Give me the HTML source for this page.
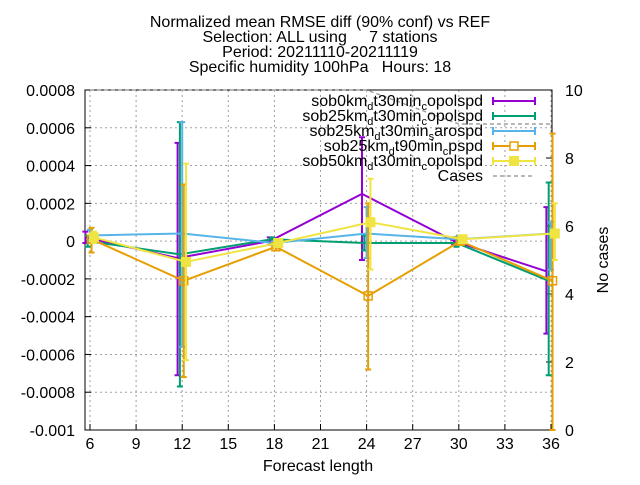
<!DOCTYPE html>
<html><head><meta charset="utf-8"><style>
body{margin:0;background:#fff;font-family:"Liberation Sans",sans-serif}
svg text{font-family:"Liberation Sans",sans-serif;font-size:16px;fill:#000;white-space:pre}
</style></head><body>
<svg id="c" width="640" height="480" xmlns="http://www.w3.org/2000/svg">
<g text-anchor="middle">
<text x="320" y="27" xml:space="preserve">Normalized mean RMSE diff (90% conf) vs REF</text>
<text x="320" y="42" xml:space="preserve">Selection: ALL using     7 stations</text>
<text x="320" y="57" xml:space="preserve">Period: 20211110-20211119</text>
<text x="320" y="72" xml:space="preserve">Specific humidity 100hPa   Hours: 18</text>
</g>
<g id="grid"></g>
<g id="axes"></g>
<g id="series"></g>
<g id="legend"></g>
<text x="318" y="471" text-anchor="middle">Forecast length</text>
<text transform="translate(608,260) rotate(-90)" text-anchor="middle">No cases</text>
</svg>
<script>
const xs=[6,12,18,24,30,36];
const names=["sob0km_dt30min_copolspd","sob25km_dt30min_copolspd","sob25km_dt30min_sarospd","sob25km_dt90min_cpspd","sob50km_dt30min_copolspd"];
const colors=["#9400d3","#009e73","#56b4e9","#e69f00","#f0e442"];
const v0=[0.00002,-0.00009,0.0,0.00025,0.0,-0.00016];
const v1=[0.0,-0.00007,0.00001,-0.00001,-0.00001,-0.00021];
const v2=[0.00003,0.00004,-0.00001,0.00004,0.00001,0.00004];
const v3=[0.00001,-0.00021,-0.00003,-0.00029,0.0,-0.00021];
const v4=[0.00002,-0.00011,-0.00001,0.0001,0.00001,0.00004];
const lo0=[-0.00001,-0.00071,-0.00002,-0.0001,-0.00002,-0.00049];
const hi0=[0.00005,0.00052,0.00002,0.00055,0.00002,0.00018];
const lo1=[-0.00003,-0.00077,-0.00001,-0.00005,-0.00003,-0.00071];
const hi1=[0.00003,0.00063,0.00002,0.00003,0.00002,0.00031];
const lo2=[0.0,-0.00056,-0.00002,-0.00009,-0.00001,-0.00015];
const hi2=[0.00006,0.00063,0.0,0.00018,0.00003,0.0001];
const lo3=[-0.00006,-0.00072,-0.00005,-0.00068,-0.00002,-0.001];
const hi3=[0.00007,0.0003,-0.00001,0.0002,0.00002,0.00057];
const lo4=[-0.00001,-0.00063,-0.00003,-0.00015,-0.00001,-0.0001];
const hi4=[0.00005,0.00041,0.00001,0.00033,0.00003,0.0002];
const cases=[10,10,10,10,9,9];
const yTicks=[0.0008,0.0006,0.0004,0.0002,0,-0.0002,-0.0004,-0.0006,-0.0008,-0.001];
const yLabels=["0.0008","0.0006","0.0004","0.0002","0","-0.0002","-0.0004","-0.0006","-0.0008","-0.001"];
const xTicks=[6,9,12,15,18,21,24,27,30,33,36];
const y2Ticks=[0,2,4,6,8,10];
const vals=[v0,v1,v2,v3,v4],los=[lo0,lo1,lo2,lo3,lo4],his=[hi0,hi1,hi2,hi3,hi4];
const L=85,R=552,T=90,B=430;
const X=v=>90+(v-6)*(461/30);
const Y=v=>T+(0.0008-v)/0.0018*(B-T);
const Y2=v=>B-v/10*(B-T);
const NS="http://www.w3.org/2000/svg";
function mk(p,t,a){const e=document.createElementNS(NS,t);for(const k in a)e.setAttribute(k,a[k]);p.appendChild(e);return e;}
const g=document.getElementById('grid'),ax=document.getElementById('axes'),se=document.getElementById('series'),lg=document.getElementById('legend');
yTicks.forEach((t,i)=>{const y=Y(t);
 const l=mk(g,'line',{x1:L,x2:R,y1:y,y2:y,stroke:'#a0a0a0','stroke-dasharray':'2,3','stroke-width':1});
 
 const tx=mk(ax,'text',{x:L-10,y:y+6,'text-anchor':'end'});tx.textContent=yLabels[i];
 
 mk(ax,'line',{x1:L,x2:L+6,y1:y,y2:y,stroke:'#000'});});
xTicks.forEach(t=>{const x=X(t);
 const l=mk(g,'line',{x1:x,x2:x,y1:T,y2:B,stroke:'#a0a0a0','stroke-dasharray':'2,3','stroke-width':1});
 
 const tx=mk(ax,'text',{x:x,y:B+19,'text-anchor':'middle'});tx.textContent=t;
 
 mk(ax,'line',{x1:x,x2:x,y1:B,y2:B-6,stroke:'#000'});});
y2Ticks.forEach(t=>{const y=Y2(t);
 const tx=mk(ax,'text',{x:R+13,y:y+6});tx.textContent=t;
 
 mk(ax,'line',{x1:R,x2:R-6,y1:y,y2:y,stroke:'#000'});});
const fr=mk(ax,'rect',{x:L,y:T,width:R-L,height:B-T,fill:'none',stroke:'#000'});

const cl=mk(se,'polyline',{points:xs.map((x,i)=>X(x)+','+Y2(cases[i])).join(' '),fill:'none',stroke:'#a0a0a0','stroke-width':1.5,'stroke-dasharray':'4,3'});

const off=[-0.3,-0.15,0,0.1,0.25];
vals.forEach((v,s)=>{const c=colors[s];const gg=mk(se,'g',{});
 
 mk(gg,'polyline',{points:xs.map((x,i)=>X(x+off[s])+','+Y(v[i])).join(' '),fill:'none',stroke:c,'stroke-width':2});
 xs.forEach((x,i)=>{const px=X(x+off[s]);
  const eb=mk(gg,'path',{d:`M${px},${Y(los[s][i])}V${Y(his[s][i])}M${px-3},${Y(los[s][i])}h6M${px-3},${Y(his[s][i])}h6`,stroke:c,'stroke-width':2,fill:'none'});
  
  const py=Y(v[i]);
  if(s==4){mk(gg,'rect',{x:px-5,y:py-5,width:10,height:10,fill:c});}
  else if(s==3){mk(gg,'rect',{x:px-4,y:py-4,width:8,height:8,fill:'none',stroke:c,'stroke-width':1.5});}
 });});
const lab=[["sob0km","d","t30min","c","opolspd"],["sob25km","d","t30min","c","opolspd"],["sob25km","d","t30min","s","arospd"],["sob25km","d","t90min","c","pspd"],["sob50km","d","t30min","c","opolspd"]];
lab.forEach((p,i)=>{const y=106+i*15;
 const t=mk(lg,'text',{x:483,y:y,'text-anchor':'end'});
 t.innerHTML=`${p[0]}<tspan dy="4" font-size="11">${p[1]}</tspan><tspan dy="-4">${p[2]}</tspan><tspan dy="4" font-size="11">${p[3]}</tspan><tspan dy="-4">${p[4]}</tspan>`;
 
 const cy=y-5;
 mk(lg,'path',{d:`M493,${cy}H535M493,${cy-4}v8M535,${cy-4}v8`,stroke:colors[i],'stroke-width':2});
 if(i==4)mk(lg,'rect',{x:509,y:cy-5,width:10,height:10,fill:colors[i]});
 if(i==3)mk(lg,'rect',{x:510,y:cy-4,width:8,height:8,fill:'#fff',stroke:colors[i],'stroke-width':1.5});
});
const ct=mk(lg,'text',{x:483,y:181,'text-anchor':'end'});ct.textContent='Cases';

mk(lg,'line',{x1:493,x2:535,y1:176,y2:176,stroke:'#a0a0a0','stroke-width':1.5,'stroke-dasharray':'4,3'});
</script>
</body></html>
